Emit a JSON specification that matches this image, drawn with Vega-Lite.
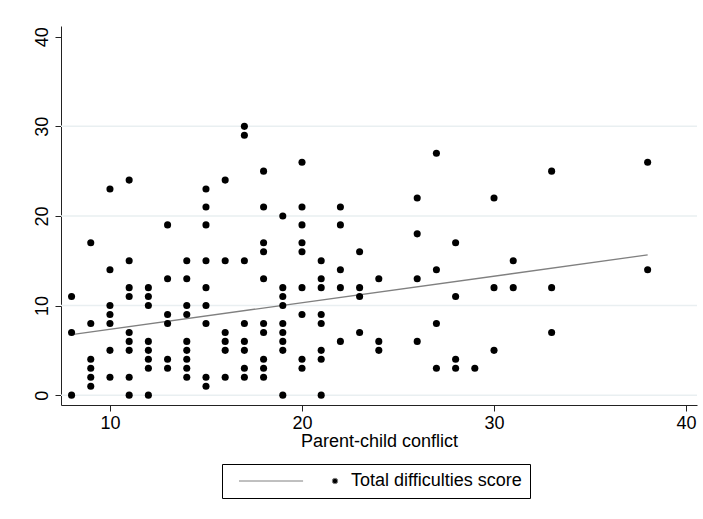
{
  "$schema": "https://vega.github.io/schema/vega-lite/v6.json",
  "width": 636,
  "height": 379,
  "autosize": "none",
  "padding": {"left": 61, "top": 26, "right": 6, "bottom": 114},
  "background": "white",
  "config": {
    "view": {"stroke": null},
    "font": "Liberation Sans",
    "axis": {
      "domainColor": "#222222",
      "domainWidth": 1,
      "tickColor": "#222222",
      "tickSize": 6,
      "labelFont": "Liberation Sans",
      "labelFontSize": 18,
      "labelColor": "black",
      "titleFont": "Liberation Sans",
      "titleFontSize": 18,
      "titleFontWeight": "normal",
      "titleColor": "black",
      "grid": false
    }
  },
  "datasets": {
    "pts": [
      {"conflict": 8, "sdq": 11}, {"conflict": 8, "sdq": 7}, {"conflict": 8, "sdq": 0},
      {"conflict": 9, "sdq": 17}, {"conflict": 9, "sdq": 8}, {"conflict": 9, "sdq": 4}, {"conflict": 9, "sdq": 3}, {"conflict": 9, "sdq": 2}, {"conflict": 9, "sdq": 1},
      {"conflict": 10, "sdq": 23}, {"conflict": 10, "sdq": 14}, {"conflict": 10, "sdq": 10}, {"conflict": 10, "sdq": 9}, {"conflict": 10, "sdq": 8}, {"conflict": 10, "sdq": 5}, {"conflict": 10, "sdq": 2},
      {"conflict": 11, "sdq": 24}, {"conflict": 11, "sdq": 15}, {"conflict": 11, "sdq": 12}, {"conflict": 11, "sdq": 11}, {"conflict": 11, "sdq": 7}, {"conflict": 11, "sdq": 6}, {"conflict": 11, "sdq": 5}, {"conflict": 11, "sdq": 2}, {"conflict": 11, "sdq": 0},
      {"conflict": 12, "sdq": 12}, {"conflict": 12, "sdq": 11}, {"conflict": 12, "sdq": 10}, {"conflict": 12, "sdq": 6}, {"conflict": 12, "sdq": 5}, {"conflict": 12, "sdq": 4}, {"conflict": 12, "sdq": 3}, {"conflict": 12, "sdq": 0},
      {"conflict": 13, "sdq": 19}, {"conflict": 13, "sdq": 13}, {"conflict": 13, "sdq": 9}, {"conflict": 13, "sdq": 8}, {"conflict": 13, "sdq": 4}, {"conflict": 13, "sdq": 3},
      {"conflict": 14, "sdq": 15}, {"conflict": 14, "sdq": 13}, {"conflict": 14, "sdq": 10}, {"conflict": 14, "sdq": 9}, {"conflict": 14, "sdq": 6}, {"conflict": 14, "sdq": 5}, {"conflict": 14, "sdq": 4}, {"conflict": 14, "sdq": 3}, {"conflict": 14, "sdq": 2},
      {"conflict": 15, "sdq": 23}, {"conflict": 15, "sdq": 21}, {"conflict": 15, "sdq": 19}, {"conflict": 15, "sdq": 15}, {"conflict": 15, "sdq": 12}, {"conflict": 15, "sdq": 10}, {"conflict": 15, "sdq": 8}, {"conflict": 15, "sdq": 2}, {"conflict": 15, "sdq": 1},
      {"conflict": 16, "sdq": 24}, {"conflict": 16, "sdq": 15}, {"conflict": 16, "sdq": 7}, {"conflict": 16, "sdq": 6}, {"conflict": 16, "sdq": 5}, {"conflict": 16, "sdq": 2},
      {"conflict": 17, "sdq": 30}, {"conflict": 17, "sdq": 29}, {"conflict": 17, "sdq": 15}, {"conflict": 17, "sdq": 8}, {"conflict": 17, "sdq": 6}, {"conflict": 17, "sdq": 5}, {"conflict": 17, "sdq": 3}, {"conflict": 17, "sdq": 2},
      {"conflict": 18, "sdq": 25}, {"conflict": 18, "sdq": 21}, {"conflict": 18, "sdq": 17}, {"conflict": 18, "sdq": 16}, {"conflict": 18, "sdq": 13}, {"conflict": 18, "sdq": 8}, {"conflict": 18, "sdq": 7}, {"conflict": 18, "sdq": 4}, {"conflict": 18, "sdq": 3}, {"conflict": 18, "sdq": 2},
      {"conflict": 19, "sdq": 20}, {"conflict": 19, "sdq": 12}, {"conflict": 19, "sdq": 11}, {"conflict": 19, "sdq": 10}, {"conflict": 19, "sdq": 8}, {"conflict": 19, "sdq": 7}, {"conflict": 19, "sdq": 6}, {"conflict": 19, "sdq": 5}, {"conflict": 19, "sdq": 0},
      {"conflict": 20, "sdq": 26}, {"conflict": 20, "sdq": 21}, {"conflict": 20, "sdq": 19}, {"conflict": 20, "sdq": 17}, {"conflict": 20, "sdq": 16}, {"conflict": 20, "sdq": 12}, {"conflict": 20, "sdq": 9}, {"conflict": 20, "sdq": 4}, {"conflict": 20, "sdq": 3},
      {"conflict": 21, "sdq": 15}, {"conflict": 21, "sdq": 13}, {"conflict": 21, "sdq": 12}, {"conflict": 21, "sdq": 9}, {"conflict": 21, "sdq": 8}, {"conflict": 21, "sdq": 5}, {"conflict": 21, "sdq": 4}, {"conflict": 21, "sdq": 0},
      {"conflict": 22, "sdq": 21}, {"conflict": 22, "sdq": 19}, {"conflict": 22, "sdq": 14}, {"conflict": 22, "sdq": 12}, {"conflict": 22, "sdq": 6},
      {"conflict": 23, "sdq": 16}, {"conflict": 23, "sdq": 12}, {"conflict": 23, "sdq": 11}, {"conflict": 23, "sdq": 7},
      {"conflict": 24, "sdq": 13}, {"conflict": 24, "sdq": 6}, {"conflict": 24, "sdq": 5},
      {"conflict": 26, "sdq": 22}, {"conflict": 26, "sdq": 18}, {"conflict": 26, "sdq": 13}, {"conflict": 26, "sdq": 6},
      {"conflict": 27, "sdq": 27}, {"conflict": 27, "sdq": 14}, {"conflict": 27, "sdq": 8}, {"conflict": 27, "sdq": 3},
      {"conflict": 28, "sdq": 17}, {"conflict": 28, "sdq": 11}, {"conflict": 28, "sdq": 4}, {"conflict": 28, "sdq": 3},
      {"conflict": 29, "sdq": 3},
      {"conflict": 30, "sdq": 22}, {"conflict": 30, "sdq": 12}, {"conflict": 30, "sdq": 5},
      {"conflict": 31, "sdq": 15}, {"conflict": 31, "sdq": 12},
      {"conflict": 33, "sdq": 25}, {"conflict": 33, "sdq": 12}, {"conflict": 33, "sdq": 7},
      {"conflict": 38, "sdq": 26}, {"conflict": 38, "sdq": 14}
    ],
    "fit": [
      {"conflict": 8, "sdq": 6.76},
      {"conflict": 38, "sdq": 15.65}
    ],
    "grid": [
      {"sdq": 0}, {"sdq": 10}, {"sdq": 20}, {"sdq": 30}
    ]
  },
  "layer": [
    {
      "data": {"name": "grid"},
      "mark": {"type": "rule", "color": "#e9eff1", "strokeWidth": 1.5},
      "encoding": {
        "y": {"field": "sdq", "type": "quantitative", "scale": {"domain": [-1.1, 41.2], "nice": false, "zero": false}, "axis": {"title": null, "values": [0, 10, 20, 30, 40], "labelAngle": -90, "labelAlign": "center", "labelBaseline": "bottom", "labelPadding": 4}}
      }
    },
    {
      "data": {"name": "fit"},
      "mark": {"type": "line", "color": "#808080", "strokeWidth": 1.4},
      "encoding": {
        "x": {"field": "conflict", "type": "quantitative", "scale": {"domain": [7.45, 40.57], "nice": false, "zero": false}, "axis": {"title": "Parent-child conflict", "values": [10, 20, 30, 40], "labelPadding": 3, "titlePadding": 0}},
        "y": {"field": "sdq", "type": "quantitative"}
      }
    },
    {
      "data": {"name": "pts"},
      "mark": {"type": "point", "filled": true, "color": "black", "size": 50, "opacity": 1},
      "encoding": {
        "x": {"field": "conflict", "type": "quantitative"},
        "y": {"field": "sdq", "type": "quantitative"},
        "shape": {
          "datum": "Total difficulties score",
          "scale": {"domain": ["fit", "Total difficulties score"], "range": ["M 0 0 L 23.4 0", "circle"]},
          "legend": {
            "orient": "none",
            "legendX": 161,
            "legendY": 438,
            "direction": "horizontal",
            "columns": 2,
            "title": null,
            "strokeColor": "black",
            "fillColor": "white",
            "padding": 8,
            "columnPadding": 20,
            "labelExpr": "datum.value == 'fit' ? '' : datum.label",
            "labelFont": "Liberation Sans",
            "labelFontSize": 18,
            "labelColor": "black",
            "labelOffset": 7,
            "labelLimit": 400,
            "symbolSize": 30,
            "symbolStrokeWidth": 1,
            "symbolFillColor": "black",
            "encoding": {
              "symbols": {
                "stroke": {"value": "#808080"},
                "fill": {"value": "black"},
                "strokeWidth": {"value": 1}
              }
            }
          }
        }
      }
    }
  ]
}
